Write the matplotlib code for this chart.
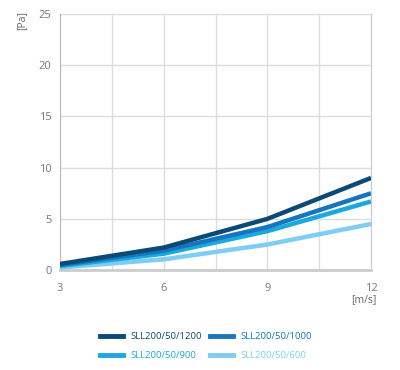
import matplotlib
matplotlib.use("Agg")
import matplotlib.pyplot as plt
from matplotlib.lines import Line2D

plt.rcParams['font.family'] = ['Open Sans', 'DejaVu Sans']

speed = [3, 6, 9, 12]
series_names = ["SLL200/50/1200", "SLL200/50/1000", "SLL200/50/900", "SLL200/50/600"]
p1200 = [0.6, 2.2, 5.0, 9.0]
p1000 = [0.5, 1.9, 4.2, 7.5]
p900 = [0.4, 1.6, 3.8, 6.7]
p600 = [0.25, 1.05, 2.5, 4.5]
x_ticks = [3, 6, 9, 12]
y_ticks = [0, 5, 10, 15, 20, 25]

colors = ["#0b4a76", "#1676bd", "#1aa8e0", "#7fcdf2"]
values = [p1200, p1000, p900, p600]

fig = plt.figure(figsize=(4, 3.7), dpi=100)
ax = fig.add_axes([0.15, 0.27, 0.7775, 0.692])

for v, c in zip(values[::-1], colors[::-1]):
    ax.plot(speed, v, color=c, lw=3.2, solid_capstyle='butt', zorder=3)

ax.set_xlim(3, 12)
ax.set_ylim(0, 25)
ax.set_xticks(x_ticks)
ax.set_xticks([4.5, 7.5, 10.5], minor=True)
ax.set_yticks(y_ticks)
ax.grid(True, which='both', color='#dddddd', lw=1)
ax.set_axisbelow(True)
ax.spines['top'].set_visible(False)
ax.spines['right'].set_color('#cccccc')
ax.spines['left'].set_color('#bbbbbb')
ax.spines['bottom'].set_color('#cccccc')
ax.spines['bottom'].set_linewidth(2)
ax.tick_params(which='both', length=0, colors='#777777', labelsize=8)
ax.tick_params(axis='x', pad=9)
ax.tick_params(axis='y', pad=6)

fig.text(22/400, 1 - 20/370, "[Pa]", rotation=90, ha='center', va='center', fontsize=7.5, color='#666666')
fig.text(364/400, 1 - 300/370, "[m/s]", ha='center', va='center', fontsize=7.5, color='#666666')

handles = [Line2D([0], [0], color=c, lw=3.5) for c in colors]
order = [0, 2, 1, 3]
leg = fig.legend([handles[i] for i in order], [series_names[i] for i in order],
                 loc='center', bbox_to_anchor=(0.515, 1 - 346/370),
                 ncol=2, frameon=False, fontsize=6.8, handlelength=2.4, handletextpad=0.75,
                 columnspacing=0.95, labelspacing=1.05)
for t, i in zip(leg.get_texts(), order):
    t.set_color(colors[i])

fig.savefig("out.png", dpi=100)
